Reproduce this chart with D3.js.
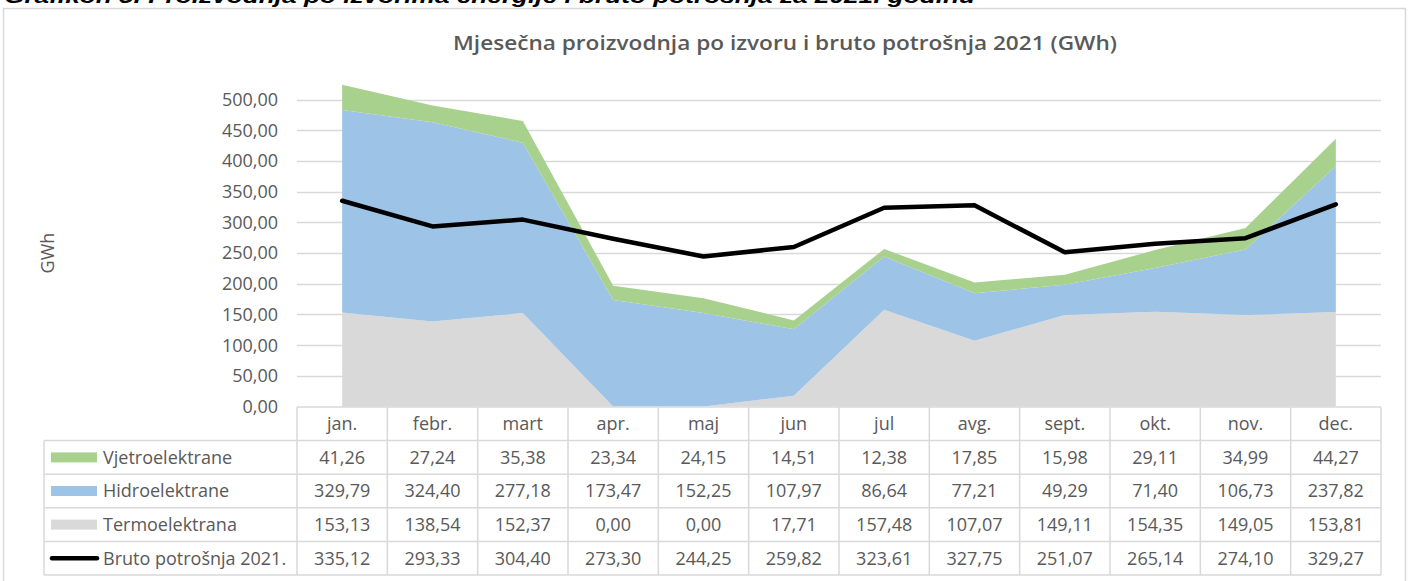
<!DOCTYPE html>
<html>
<head>
<meta charset="utf-8">
<script src="https://cdn.jsdelivr.net/npm/d3@7"></script>
<style>
  body { margin: 0; background: #fff; }
  svg { display: block; }
</style>
</head>
<body>
<div id="chart"></div>
<script>
const months = ["jan.", "febr.", "mart", "apr.", "maj", "jun", "jul", "avg.", "sept.", "okt.", "nov.", "dec."];
const vjetro = [41.26, 27.24, 35.38, 23.34, 24.15, 14.51, 12.38, 17.85, 15.98, 29.11, 34.99, 44.27];
const hidro = [329.79, 324.40, 277.18, 173.47, 152.25, 107.97, 86.64, 77.21, 49.29, 71.40, 106.73, 237.82];
const termo = [153.13, 138.54, 152.37, 0.00, 0.00, 17.71, 157.48, 107.07, 149.11, 154.35, 149.05, 153.81];
const bruto = [335.12, 293.33, 304.40, 273.30, 244.25, 259.82, 323.61, 327.75, 251.07, 265.14, 274.10, 329.27];
const yTicks = [0, 50, 100, 150, 200, 250, 300, 350, 400, 450, 500];

const width = 1411;
const height = 581;
const font = "'Open Sans', 'DejaVu Sans', sans-serif";
const textColor = "#595959";
const gridColor = "#d9d9d9";

const locale = d3.formatLocale({ decimal: ",", thousands: ".", grouping: [3], currency: ["", ""] });
const fmt = locale.format(".2f");

const rows = months.map((m, i) => ({
  month: m, termo: termo[i], hidro: hidro[i], vjetro: vjetro[i], bruto: bruto[i]
}));

const series = [
  { key: "vjetro", name: "Vjetroelektrane", color: "#a9d18e", values: vjetro },
  { key: "hidro", name: "Hidroelektrane", color: "#9dc3e6", values: hidro },
  { key: "termo", name: "Termoelektrana", color: "#d9d9d9", values: termo },
  { key: "bruto", name: "Bruto potrošnja 2021.", color: "#000", values: bruto, line: true }
];

const svg = d3.select("#chart").append("svg")
  .attr("width", width)
  .attr("height", height);

// Document caption, cut off at the top
svg.append("text")
  .attr("x", 4)
  .attr("y", 3)
  .attr("textLength", 971)
  .attr("lengthAdjust", "spacingAndGlyphs")
  .style("font-family", "'Liberation Sans', Arial, sans-serif")
  .style("font-size", "20px")
  .style("font-weight", "bold")
  .style("font-style", "italic")
  .attr("fill", "#000")
  .text("Grafikon 5. Proizvodnja po izvorima energije i bruto potrošnja za 2021. godinu");

// Chart frame
svg.append("rect")
  .attr("x", 3.5)
  .attr("y", 8.5)
  .attr("width", 1402)
  .attr("height", 600)
  .attr("fill", "none")
  .attr("stroke", gridColor)
  .attr("stroke-width", 1.5);

// Scales
const x = d3.scaleBand().domain(months).range([297, 1381]);
const xc = (m) => x(m) + x.bandwidth() / 2;
const y = d3.scaleLinear().domain([0, 500]).range([406.5, 99.5]);

// Title
svg.append("text")
  .attr("x", 785)
  .attr("y", 50)
  .attr("text-anchor", "middle")
  .attr("textLength", 664)
  .attr("lengthAdjust", "spacingAndGlyphs")
  .style("font-family", font)
  .style("font-size", "19.5px")
  .style("font-weight", 600)
  .attr("fill", textColor)
  .text("Mjesečna proizvodnja po izvoru i bruto potrošnja 2021 (GWh)");

// Gridlines
svg.append("g")
  .selectAll("line")
  .data(yTicks.filter((d) => d > 0))
  .join("line")
  .attr("x1", 297)
  .attr("x2", 1381)
  .attr("y1", (d) => Math.round(y(d)) + 0.5)
  .attr("y2", (d) => Math.round(y(d)) + 0.5)
  .attr("stroke", gridColor)
  .attr("stroke-width", 1.5);

// Y tick labels
svg.append("g")
  .selectAll("text")
  .data(yTicks)
  .join("text")
  .attr("x", 278)
  .attr("y", (d) => y(d))
  .attr("dy", "0.36em")
  .attr("text-anchor", "end")
  .style("font-family", font)
  .style("font-size", "18px")
  .attr("fill", textColor)
  .text((d) => fmt(d));

// Y axis title
svg.append("text")
  .attr("transform", "translate(54,253) rotate(-90)")
  .attr("text-anchor", "middle")
  .style("font-family", font)
  .style("font-size", "18px")
  .attr("fill", textColor)
  .text("GWh");

// Stacked areas
const stack = d3.stack().keys(["termo", "hidro", "vjetro"]);
const stacked = stack(rows);
const colorOf = { termo: "#d9d9d9", hidro: "#9dc3e6", vjetro: "#a9d18e" };

const area = d3.area()
  .x((d) => xc(d.data.month))
  .y0((d) => y(d[0]))
  .y1((d) => y(d[1]));

svg.append("g")
  .selectAll("path")
  .data(stacked)
  .join("path")
  .attr("d", area)
  .attr("fill", (d) => colorOf[d.key]);

// Consumption line
const line = d3.line()
  .x((d) => xc(d.month))
  .y((d) => y(d.bruto));

svg.append("path")
  .datum(rows)
  .attr("d", line)
  .attr("fill", "none")
  .attr("stroke", "#000")
  .attr("stroke-width", 4.5)
  .attr("stroke-linejoin", "round")
  .attr("stroke-linecap", "round");

// Data table
const table = svg.append("g");
const headTop = 407;
const rowH = 33.6;
const legendLeft = 44;
const tableRight = 1381;
const cellFont = "18px";

// horizontal borders
const hLines = [
  { x1: 297, y: headTop },
  { x1: legendLeft, y: headTop + rowH },
  { x1: legendLeft, y: headTop + rowH * 2 },
  { x1: legendLeft, y: headTop + rowH * 3 },
  { x1: legendLeft, y: headTop + rowH * 4 },
  { x1: legendLeft, y: headTop + rowH * 5 }
];
table.selectAll("line.h")
  .data(hLines)
  .join("line")
  .attr("class", "h")
  .attr("x1", (d) => d.x1)
  .attr("x2", tableRight)
  .attr("y1", (d) => d.y)
  .attr("y2", (d) => d.y)
  .attr("stroke", gridColor)
  .attr("stroke-width", 1.5);

// vertical borders
const vBounds = months.map((m) => x(m)).concat([tableRight]);
table.selectAll("line.v")
  .data(vBounds)
  .join("line")
  .attr("class", "v")
  .attr("x1", (d) => d)
  .attr("x2", (d) => d)
  .attr("y1", headTop)
  .attr("y2", headTop + rowH * 5)
  .attr("stroke", gridColor)
  .attr("stroke-width", 1.5);

table.append("line")
  .attr("x1", legendLeft)
  .attr("x2", legendLeft)
  .attr("y1", headTop + rowH)
  .attr("y2", headTop + rowH * 5)
  .attr("stroke", gridColor)
  .attr("stroke-width", 1.5);

// month header
table.selectAll("text.month")
  .data(months)
  .join("text")
  .attr("class", "month")
  .attr("x", (d) => xc(d))
  .attr("y", headTop + rowH / 2)
  .attr("dy", "0.36em")
  .attr("text-anchor", "middle")
  .style("font-family", font)
  .style("font-size", cellFont)
  .attr("fill", textColor)
  .text((d) => d);

// series rows
const rowG = table.selectAll("g.row")
  .data(series)
  .join("g")
  .attr("class", "row")
  .attr("transform", (d, i) => `translate(0,${headTop + rowH * (i + 1) + rowH / 2})`);

rowG.filter((d) => !d.line)
  .append("rect")
  .attr("x", 51)
  .attr("y", -5)
  .attr("width", 46)
  .attr("height", 10)
  .attr("fill", (d) => d.color);

rowG.filter((d) => d.line)
  .append("line")
  .attr("x1", 52)
  .attr("x2", 97)
  .attr("y1", 0)
  .attr("y2", 0)
  .attr("stroke", "#000")
  .attr("stroke-width", 4.5)
  .attr("stroke-linecap", "round");

rowG.append("text")
  .attr("x", 103)
  .attr("dy", "0.36em")
  .style("font-family", font)
  .style("font-size", cellFont)
  .attr("fill", textColor)
  .text((d) => d.name);

rowG.selectAll("text.val")
  .data((d) => d.values)
  .join("text")
  .attr("class", "val")
  .attr("x", (d, i) => xc(months[i]))
  .attr("dy", "0.36em")
  .attr("text-anchor", "middle")
  .style("font-family", font)
  .style("font-size", cellFont)
  .attr("fill", textColor)
  .text((d) => d3.format(".2f")(d).replace(".", ","));
</script>
</body>
</html>
